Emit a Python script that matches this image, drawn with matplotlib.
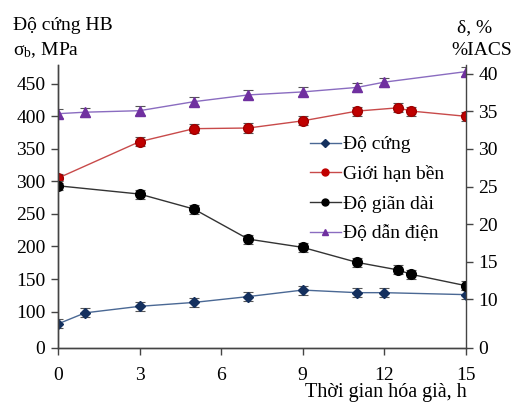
import matplotlib
matplotlib.use("Agg")
import matplotlib.pyplot as plt
from matplotlib.lines import Line2D

plt.rcParams['font.family'] = 'Liberation Serif'
plt.rcParams['mathtext.fontset'] = 'custom'
plt.rcParams['mathtext.rm'] = 'Liberation Serif'
plt.rcParams['mathtext.it'] = 'Liberation Serif:italic'

# --- du lieu doc tu hinh ---
t_hb = [0, 1, 3, 5, 7, 9, 11, 12, 15]
hardness = [81, 98, 108, 114, 123, 133, 129, 129, 126]
hardness_err = [7, 7, 7, 7, 7, 7, 7, 7, 7]

t_sb = [0, 3, 5, 7, 9, 11, 12.5, 13, 15]
strength = [305, 361, 381, 382, 393, 408, 413, 408, 400]
strength_err = [7, 7, 7, 7, 7, 7, 7, 7, 7]

t_el = [0, 3, 5, 7, 9, 11, 12.5, 13, 15]
elongation = [25.1, 24.0, 22.0, 18.0, 16.9, 14.9, 13.9, 13.3, 11.8]
elongation_err = [0.6, 0.6, 0.6, 0.6, 0.6, 0.6, 0.6, 0.6, 0.6]

t_ec = [0, 1, 3, 5, 7, 9, 11, 12, 15]
conductivity = [34.7, 34.9, 35.1, 36.3, 37.2, 37.6, 38.2, 38.9, 40.3]
conductivity_err = [0.6, 0.6, 0.6, 0.6, 0.6, 0.6, 0.6, 0.6, 0.6]

labels = ["Độ cứng", "Giới hạn bền", "Độ giãn dài", "Độ dẫn điện"]

left_ticks = [44, 100, 150, 200, 250, 300, 350, 400, 450]
left_ticklabels = ["0", "100", "150", "200", "250", "300", "350", "400", "450"]
right_ticks = [3.5, 10, 15, 20, 25, 30, 35, 40]
right_ticklabels = ["0", "10", "15", "20", "25", "30", "35", "40"]
x_ticks = [0, 3, 6, 9, 12, 15]

FS = 14
spine_c = "#444444"

fig = plt.figure(figsize=(5.13, 4.03), dpi=100)
ax = fig.add_axes([0.113, 0.1365, 0.795, 0.7025])
ax2 = ax.twinx()

# truc trai
ax.errorbar(t_hb, hardness, yerr=hardness_err, color="#4a6894", lw=1.0,
            marker="D", ms=5.5, mfc="#14305e", mec="#14305e",
            ecolor="#555555", elinewidth=0.8, capsize=3.5, capthick=0.8)
ax.errorbar(t_sb, strength, yerr=strength_err, color="#c84a4a", lw=1.0,
            marker="o", ms=7, mfc="#c00000", mec="#a00000",
            ecolor="#555555", elinewidth=0.8, capsize=3.5, capthick=0.8)

# truc phai
ax2.errorbar(t_el, elongation, yerr=elongation_err, color="#333333", lw=1.0,
             marker="o", ms=7, mfc="black", mec="black",
             ecolor="#555555", elinewidth=0.8, capsize=3.5, capthick=0.8)
ax2.errorbar(t_ec, conductivity, yerr=conductivity_err, color="#8a6cc0", lw=1.0,
             marker="^", ms=7, mfc="#7030a0", mec="#7030a0",
             ecolor="#555555", elinewidth=0.8, capsize=3.5, capthick=0.8)

ax.set_xlim(0, 15)
ax.set_xticks(x_ticks)
ax.set_ylim(44, 479)
ax.set_yticks(left_ticks)
ax.set_yticklabels(left_ticklabels)
ax2.set_ylim(3.5, 41.2)
ax2.set_yticks(right_ticks)
ax2.set_yticklabels(right_ticklabels)

for a in (ax, ax2):
    a.spines["top"].set_visible(False)
    for s in a.spines.values():
        s.set_color(spine_c)
        s.set_linewidth(1.0)
    a.tick_params(direction="out", length=5, width=1, color=spine_c,
                  labelsize=FS, pad=4)
ax.spines["right"].set_visible(False)
ax.tick_params(axis="x", pad=9)

# chu thich
handles = [
    Line2D([], [], color="#4a6894", lw=1, marker="D", ms=4, mfc="#14305e", mec="#14305e"),
    Line2D([], [], color="#c84a4a", lw=1, marker="o", ms=5, mfc="#c00000", mec="#c00000"),
    Line2D([], [], color="#333333", lw=1, marker="o", ms=5, mfc="black", mec="black"),
    Line2D([], [], color="#8a6cc0", lw=1, marker="^", ms=5, mfc="#7030a0", mec="#7030a0"),
]
ax2.legend(handles, labels, loc="upper left", bbox_to_anchor=(300 / 513, 1 - 126 / 403),
           bbox_transform=fig.transFigure, frameon=False, fontsize=FS,
           handlelength=1.6, handletextpad=0.12, labelspacing=0.62, borderpad=0)

fig.text(13 / 513, 1 - 30 / 403, "Độ cứng HB", fontsize=FS, ha="left", va="baseline")
fig.text(13 / 513, 1 - 55 / 403, r"σ$_\mathrm{b}$, MPa", fontsize=FS, ha="left", va="baseline")
fig.text(492 / 513, 1 - 32 / 403, "δ, %", fontsize=FS, ha="right", va="baseline")
fig.text(512 / 513, 1 - 55 / 403, "%IACS", fontsize=FS, ha="right", va="baseline")
fig.text(467 / 513, 1 - 397 / 403, "Thời gian hóa già, h", fontsize=FS + 0.5,
         ha="right", va="baseline")

fig.savefig("out.png", dpi=100)
